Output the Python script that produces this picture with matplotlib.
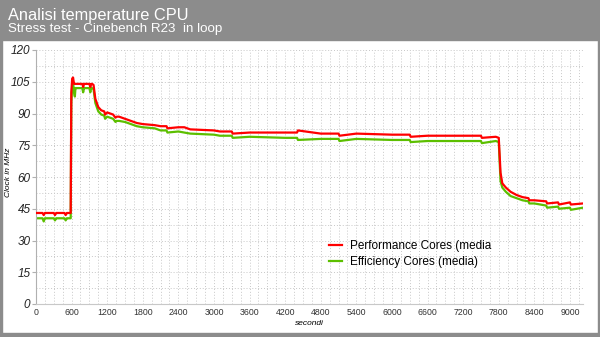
import matplotlib
matplotlib.use('Agg')
import matplotlib.pyplot as plt
from matplotlib.patches import Rectangle
from matplotlib.ticker import MultipleLocator

# seconds, performance cores avg, efficiency cores avg
TIME_S = [0, 60, 110, 130, 150, 300, 320, 340, 360, 480, 500, 520, 540, 585,
          595, 610, 625, 640, 655, 665, 680, 780, 795, 810, 820, 900, 915, 930,
          945, 970, 1000, 1050, 1100, 1150, 1165, 1200, 1300, 1340, 1360, 1400,
          1500, 1600, 1700, 1800, 2000, 2100, 2200, 2215, 2400, 2500, 2600,
          3000, 3100, 3300, 3315, 3600, 4200, 4400, 4415, 4800, 5100, 5115,
          5400, 6000, 6300, 6315, 6600, 7200, 7500, 7515, 7750, 7800, 7830,
          7860, 7920, 8000, 8100, 8200, 8300, 8315, 8400, 8600, 8615, 8800,
          8815, 9000, 9015, 9220]
PERF = [43.0, 43.0, 43.0, 42.0, 43.0, 43.0, 42.0, 43.0, 43.0, 43.0, 42.0, 43.0, 43.0, 43.0,
        100.0, 106.5, 107.0, 104.0, 104.0, 104.0, 104.0, 104.0, 102.5, 104.0, 104.0, 104.0, 102.5, 104.0,
        104.0, 103.5, 97.0, 93.0, 91.5, 91.0, 89.5, 90.5, 89.5, 88.0, 88.5, 88.5,
        87.5, 86.5, 85.5, 85.0, 84.5, 84.0, 84.0, 83.0, 83.5, 83.5, 82.5,
        82.0, 81.5, 81.5, 80.5, 81.0, 81.0, 81.0, 82.0, 80.5, 80.5, 79.5,
        80.5, 80.0, 80.0, 79.0, 79.5, 79.5, 79.5, 78.5, 79.0, 78.5, 62.0,
        57.0, 55.0, 53.0, 51.5, 50.5, 50.0, 49.0, 49.0, 48.5, 47.5, 48.0,
        47.0, 48.0, 47.0, 47.5]
EFF = [40.5, 40.5, 40.5, 39.0, 40.5, 40.5, 39.5, 40.5, 40.5, 40.5, 39.5, 40.5, 40.5, 40.5,
       95.0, 103.0, 105.0, 100.0, 98.0, 102.0, 102.0, 102.0, 100.0, 102.0, 102.0, 102.0, 100.0, 102.0,
       102.0, 101.5, 95.0, 91.0, 89.5, 89.0, 87.5, 88.5, 87.5, 86.0, 86.5, 86.5,
       86.0, 85.0, 84.0, 83.5, 83.0, 82.0, 82.0, 81.0, 81.5, 81.0, 80.5,
       80.0, 79.5, 79.5, 78.5, 79.0, 78.5, 78.5, 77.5, 78.0, 78.0, 77.0,
       78.0, 77.5, 77.5, 76.5, 77.0, 77.0, 77.0, 76.0, 77.0, 76.5, 58.0,
       55.0, 53.0, 51.0, 50.0, 49.0, 48.5, 47.5, 47.5, 46.5, 45.5, 46.0,
       45.0, 45.5, 44.5, 45.5]

plt.rcParams.update({
    'font.family': ['Liberation Sans', 'DejaVu Sans'],
    'figure.facecolor': 'white',
})

HEADER = '#8c8c8c'
RED = '#ff0000'
GREEN = '#5cbf00'

W, H = 600, 337
fig = plt.figure(figsize=(6, 3.37), dpi=100)

# header band and frame
fig.patches.append(Rectangle((0, 1 - 40 / H), 1, 40 / H, transform=fig.transFigure,
                             color=HEADER, zorder=0))
fig.patches.append(Rectangle((0, 0), 2 / W, 1, transform=fig.transFigure, color=HEADER, zorder=0))
fig.patches.append(Rectangle((1 - 2 / W, 0), 2 / W, 1, transform=fig.transFigure, color=HEADER, zorder=0))
fig.patches.append(Rectangle((0, 0), 1, 4 / H, transform=fig.transFigure, color=HEADER, zorder=0))

fig.text(8 / W, 1 - 20 / H, 'Analisi temperature CPU', color='white', fontsize=11.8, va='baseline')
fig.text(8 / W, 1 - 32 / H, 'Stress test - Cinebench R23  in loop', color='white', fontsize=9.6,
         va='baseline')

ax = fig.add_axes([36 / W, 33 / H, (583 - 36) / W, (304 - 50) / H])
ax.plot(TIME_S, PERF, color=RED, lw=1.6, label='Performance Cores (media', zorder=3)
ax.plot(TIME_S, EFF, color=GREEN, lw=1.6, label='Efficiency Cores (media)', zorder=2)

ax.set_xlim(0, 9220)
ax.set_ylim(0, 120)
ax.xaxis.set_major_locator(MultipleLocator(600))
ax.xaxis.set_minor_locator(MultipleLocator(150))
ax.yaxis.set_major_locator(MultipleLocator(15))
ax.yaxis.set_minor_locator(MultipleLocator(7.5))
ax.grid(True, which='both', color='#c8c8c8', linestyle=(0, (1, 2)), linewidth=0.7)
ax.set_axisbelow(True)

for s in ['top', 'right']:
    ax.spines[s].set_visible(False)
ax.spines['left'].set_color('#b0b0b0')
ax.spines['bottom'].set_color('#c8c8c8')
ax.tick_params(which='minor', length=0)
ax.tick_params(axis='y', length=3, color='#b0b0b0', labelsize=8.5, labelcolor='#222222', pad=1)
ax.tick_params(axis='x', length=0, labelsize=6.3, labelcolor='#333333', pad=3)
for lab in ax.get_yticklabels():
    lab.set_fontstyle('italic')

ax.set_xlabel('secondi', fontsize=6, fontstyle='italic', labelpad=2)
ax.set_ylabel('Clock in MHz', fontsize=6, fontstyle='italic')
ax.yaxis.set_label_coords(-0.043, 0.52)

ax.legend(loc='upper left', bbox_to_anchor=(0.536, 0.252), frameon=False, fontsize=8.5,
          handlelength=1.1, handletextpad=0.7, labelspacing=0.35, borderaxespad=0,
          borderpad=0)

plt.savefig('out.png', dpi=100)
plt.close()
